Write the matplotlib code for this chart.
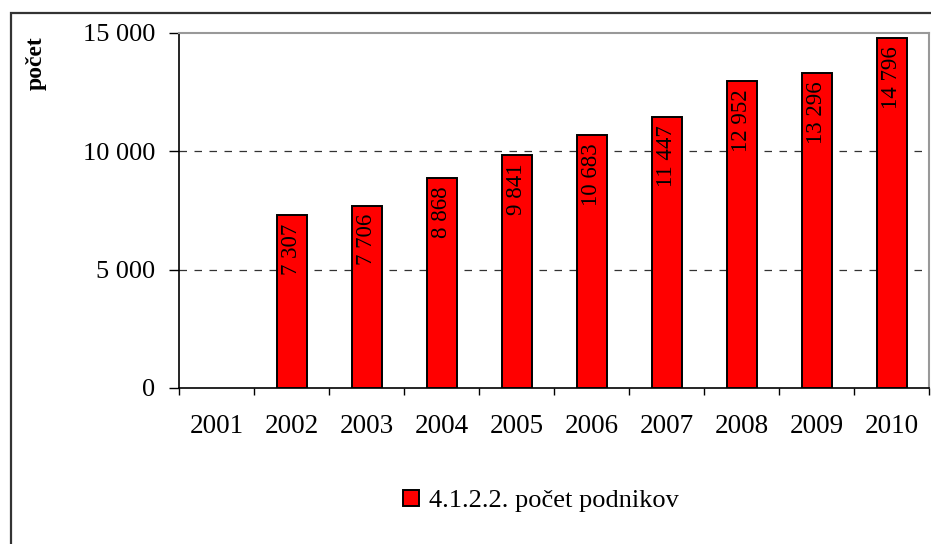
import matplotlib
matplotlib.use("Agg")
import matplotlib.pyplot as plt
from matplotlib.patches import Rectangle, Patch
import numpy as np

years = ["2001", "2002", "2003", "2004", "2005", "2006", "2007", "2008", "2009", "2010"]
values = [np.nan, 7307, 7706, 8868, 9841, 10683, 11447, 12952, 13296, 14796]
yticks = [0, 5000, 10000, 15000]
ytick_labels = ["0", "5 000", "10 000", "15 000"]
series_name = "4.1.2.2. počet podnikov"
ylabel = "počet"

plt.rcParams['font.family'] = ['Liberation Serif', 'DejaVu Serif']

W, H = 931, 544
fig = plt.figure(figsize=(W / 100, H / 100), dpi=100)
fig.patch.set_facecolor("white")

# outer frame
fig.patches.append(Rectangle((11 / W, -0.05), 1.2, 1 - 13 / H + 0.05,
                             transform=fig.transFigure, fill=False,
                             edgecolor="#333333", linewidth=1.6, zorder=0))

ax = fig.add_axes([179 / W, 1 - 388 / H, (929 - 179) / W, (388 - 33) / H])
x = np.arange(len(years))
bars = ax.bar(x, values, width=0.4, color="#FF0000", edgecolor="black", linewidth=1.4, zorder=3)

ax.set_xlim(-0.5, len(years) - 0.5)
ax.set_ylim(0, 15000)

ax.set_yticks(yticks)
ax.set_yticklabels(ytick_labels, fontsize=19)
ax.tick_params(axis="y", direction="out", length=7, width=1, pad=10, colors="black")

ax.set_xticks(x)
ax.set_xticklabels(years, fontsize=19.5)
ax.set_xticks(np.arange(-0.5, len(years), 1), minor=True)
ax.tick_params(axis="x", which="major", length=0, pad=19)
ax.tick_params(axis="x", which="minor", direction="out", length=5, width=1, color="black")

for yv in yticks[1:-1]:
    ax.axhline(yv, color="#333333", linestyle=(0, (6, 6)), linewidth=0.9, zorder=1)

for s in ["left", "bottom"]:
    ax.spines[s].set_color("black")
    ax.spines[s].set_linewidth(1.2)
for s in ["top", "right"]:
    ax.spines[s].set_color("#999999")
    ax.spines[s].set_linewidth(1.5)

for xi, v in zip(x, values):
    if np.isnan(v):
        continue
    lab = f"{int(v):,}".replace(",", " ")
    ax.annotate(lab, (xi, v), xytext=(0, -6), textcoords="offset points",
                rotation=90, ha="center", va="top", fontsize=16.5, zorder=4)

fig.text(36 / W, 1 - 36 / H, ylabel, rotation=90, ha="center", va="top",
         fontsize=17, fontweight="bold")

handle = Patch(facecolor="#FF0000", edgecolor="black", linewidth=1.4)
fig.legend([handle], [series_name], loc="center", bbox_to_anchor=(541 / W, 1 - 501 / H),
           frameon=False, fontsize=19, handlelength=0.6, handleheight=0.6, handletextpad=0.4)

fig.savefig("out.png", dpi=100)
